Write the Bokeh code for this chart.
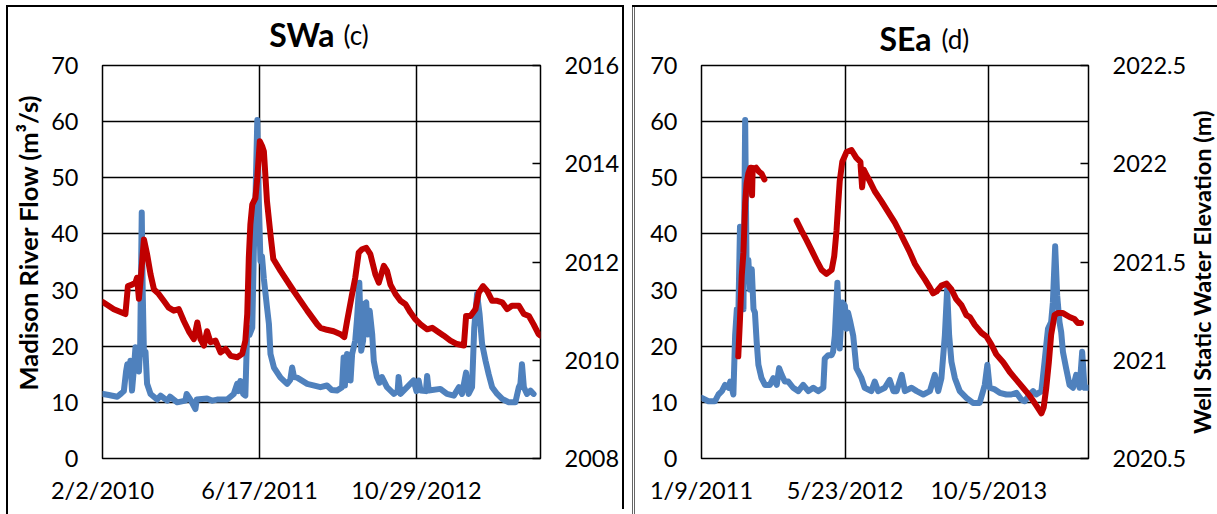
import math
import numpy as np
import pandas as pd
from bokeh.plotting import figure
from bokeh.models import Range1d, LinearAxis, FixedTicker, Title, Label, NumeralTickFormatter
from bokeh.layouts import row
from bokeh.embed import file_html
from bokeh.resources import INLINE

FONT = "Lato"
BLUE = "#4F81BD"
RED = "#C00000"
TICK_FONT_SIZE = "23.5px"

# ---------------- common ----------------
flow_ticks = [0, 10, 20, 30, 40, 50, 60, 70]

# ---------------- SWa (c) ----------------
swa_title = "SWa"
swa_tag = "(c)"
swa_flow_label = "Madison River Flow (m³/s)"
swa_start = "2010-02-02"          # days below are counted from this date
swa_span_days = 1395
swa_tick_days = [0, 500, 1000]
swa_tick_labels = ["2/2/2010", "6/17/2011", "10/29/2012"]
swa_elev_ticks = [2008, 2010, 2012, 2014, 2016]

swa_flow_day = [
    2, 20, 47, 60, 68, 75, 79, 85, 89, 94,
    100, 105, 110, 116, 120, 125, 128, 132, 137, 142,
    153, 174, 185, 206, 215, 238, 264, 268, 280, 296,
    300, 333, 350, 365, 397, 418, 429, 433, 439, 448,
    455, 461, 468, 477, 482, 487, 493, 498, 503, 508,
    514, 524, 530, 535, 546, 567, 588, 598, 604, 610,
    620, 652, 694, 715, 730, 747, 763, 768, 772, 779,
    785, 790, 795, 805, 811, 818, 824, 830, 834, 840,
    845, 851, 859, 864, 874, 882, 890, 906, 928, 940,
    943, 949, 970, 991, 1000, 1007, 1013, 1030, 1034, 1039,
    1076, 1097, 1119, 1135, 1145, 1158, 1166, 1177, 1184, 1193,
    1201, 1209, 1220, 1230, 1241, 1257, 1273, 1294, 1315, 1326,
    1331, 1336, 1342, 1352, 1363, 1373]
swa_flow = [
    11.5, 11.3, 11.0, 11.6, 12.0, 15.5, 16.8, 15.0, 17.4, 12.1,
    16.0, 19.8, 17.0, 15.5, 20.0, 43.8, 30.0, 18.6, 19.0, 13.3,
    11.5, 10.5, 11.2, 10.3, 11.0, 10.0, 10.3, 11.5, 10.5, 8.8,
    10.5, 10.7, 10.3, 10.5, 10.5, 11.5, 13.3, 12.0, 13.8, 11.5,
    11.2, 23.3, 22.0, 23.3, 37.0, 45.8, 60.3, 45.8, 35.2, 36.0,
    32.0, 26.9, 24.0, 18.6, 16.2, 14.4, 13.3, 14.0, 16.2, 14.5,
    14.4, 13.3, 12.7, 13.0, 12.2, 12.1, 12.7, 18.0, 13.0, 18.6,
    14.0, 13.9, 18.6, 21.0, 25.1, 31.3, 19.2, 21.0, 27.5, 27.8,
    22.1, 26.3, 22.1, 17.4, 14.5, 13.5, 14.5, 12.7, 11.5, 12.0,
    14.5, 11.5, 12.7, 13.9, 12.0, 13.9, 12.1, 12.0, 14.7, 12.1,
    12.4, 11.5, 11.2, 12.7, 11.5, 15.3, 11.5, 12.7, 23.3, 29.3,
    25.7, 20.4, 17.4, 15.0, 12.7, 11.5, 10.6, 10.0, 10.0, 12.7,
    13.3, 16.8, 12.7, 11.5, 12.1, 11.5]

swa_well_day = [
    2, 36, 73, 81, 94, 105, 110, 116, 123, 132,
    142, 153, 164, 179, 195, 211, 227, 243, 259, 275,
    291, 302, 312, 323, 333, 344, 360, 376, 392, 408,
    429, 445, 455, 461, 466, 471, 477, 487, 493, 501,
    509, 514, 524, 535, 544, 567, 609, 652, 684, 694,
    715, 736, 758, 770, 779, 795, 805, 816, 827, 840,
    853, 869, 880, 896, 906, 917, 933, 949, 965, 981,
    997, 1013, 1034, 1050, 1066, 1087, 1108, 1129, 1151, 1158,
    1172, 1188, 1198, 1212, 1225, 1241, 1257, 1273, 1289, 1304,
    1326, 1342, 1358, 1373, 1389, 1395]
swa_well_elev = [
    2011.18, 2011.04, 2010.94, 2011.51, 2011.54, 2011.58, 2011.68, 2011.25, 2011.75, 2012.46,
    2012.16, 2011.75, 2011.44, 2011.35, 2011.21, 2011.07, 2011.01, 2011.04, 2010.80, 2010.59,
    2010.43, 2010.77, 2010.43, 2010.30, 2010.59, 2010.37, 2010.40, 2010.16, 2010.23, 2010.09,
    2010.06, 2010.13, 2010.40, 2010.94, 2012.09, 2012.77, 2013.17, 2013.30, 2013.71, 2014.46,
    2014.35, 2014.25, 2013.23, 2012.56, 2012.06, 2011.82, 2011.41, 2011.01, 2010.73, 2010.66,
    2010.62, 2010.59, 2010.53, 2010.47, 2010.80, 2011.35, 2011.68, 2012.19, 2012.26, 2012.29,
    2012.16, 2011.75, 2011.58, 2011.92, 2011.82, 2011.54, 2011.35, 2011.21, 2011.14, 2010.97,
    2010.83, 2010.73, 2010.63, 2010.66, 2010.59, 2010.50, 2010.40, 2010.33, 2010.30, 2010.90,
    2010.90, 2011.04, 2011.37, 2011.51, 2011.41, 2011.21, 2011.21, 2011.18, 2011.04, 2011.11,
    2011.11, 2010.94, 2010.90, 2010.73, 2010.53, 2010.50]

# ---------------- SEa (d) ----------------
sea_title = "SEa"
sea_tag = "(d)"
sea_well_label = "Well Static Water Elevation (m)"
sea_start = "2011-01-09"          # days below are counted from this date
sea_span_days = 1347
sea_tick_days = [0, 500, 1000]
sea_tick_labels = ["1/9/2011", "5/23/2012", "10/5/2013"]
sea_elev_ticks = [2020.5, 2021.0, 2021.5, 2022.0, 2022.5]

sea_flow_day = [
    1, 24, 47, 59, 71, 82, 94, 100, 111, 117,
    123, 128, 134, 140, 146, 152, 157, 163, 169, 175,
    181, 186, 192, 198, 209, 221, 238, 250, 262, 270,
    279, 290, 302, 319, 337, 354, 372, 389, 406, 424,
    429, 441, 453, 458, 464, 473, 481, 490, 499, 505,
    510, 518, 528, 539, 557, 568, 591, 603, 615, 638,
    655, 668, 679, 697, 708, 731, 749, 772, 795, 812,
    824, 835, 847, 855, 862, 870, 882, 899, 922, 945,
    968, 980, 986, 995, 1003, 1021, 1038, 1061, 1078, 1096,
    1113, 1125, 1142, 1154, 1165, 1183, 1194, 1200, 1206, 1217,
    1223, 1231, 1238, 1246, 1252, 1258, 1269, 1281, 1293, 1304,
    1316, 1325, 1333, 1347]
sea_flow = [
    10.8, 10.2, 10.2, 11.4, 12.0, 13.1, 12.6, 13.7, 11.4, 21.9,
    26.6, 24.9, 41.3, 32.5, 26.6, 60.3, 33.7, 35.4, 30.1, 33.7,
    26.6, 26.0, 20.8, 16.7, 14.3, 13.1, 13.1, 14.3, 13.1, 16.1,
    14.9, 13.7, 13.7, 12.6, 12.0, 13.1, 12.0, 12.6, 12.0, 12.6,
    17.8, 18.4, 18.4, 19.0, 21.9, 31.3, 19.6, 27.8, 27.2, 23.1,
    26.0, 24.3, 21.9, 16.1, 14.3, 12.6, 12.0, 13.7, 12.0, 12.6,
    14.0, 12.0, 12.0, 14.9, 12.0, 12.6, 12.0, 11.4, 12.0, 14.9,
    12.0, 14.3, 21.9, 30.1, 21.9, 17.2, 14.3, 12.0, 10.8, 9.9,
    9.9, 12.0, 13.1, 16.7, 12.6, 12.3, 11.7, 11.4, 11.4, 11.7,
    10.5, 10.2, 11.4, 12.0, 11.4, 12.0, 17.2, 20.2, 23.1, 24.3,
    27.8, 37.8, 29.0, 24.3, 22.5, 19.0, 16.1, 13.1, 12.6, 14.9,
    12.6, 19.0, 12.6, 12.6]

NAN = float("nan")   # gap in the well record
sea_well_day = [
    128, 134, 140, 146, 152, 157, 163, 170, 174, 176,
    178, 190, 200, 209, 219, 275,
    331, 348, 366, 383, 400, 418, 435, 453, 462, 470,
    476, 481, 490, 505, 522, 539, 553, 559, 565, 568,
    586, 603, 626, 656, 673, 691, 708, 725, 743, 760,
    778, 795, 806, 818, 835, 853, 870, 887, 905, 922,
    934, 951, 974, 992, 1009, 1026, 1050, 1073, 1096, 1119,
    1142, 1165, 1183, 1191, 1200, 1209, 1217, 1229, 1240, 1258,
    1281, 1298, 1310, 1321]
sea_well_elev = [
    2021.02, 2021.21, 2021.43, 2021.55, 2021.80, 2021.90, 2021.95, 2021.98, 2021.98, 2021.84,
    2021.97, 2021.98, 2021.96, 2021.95, 2021.92, NAN,
    2021.71, 2021.66, 2021.61, 2021.56, 2021.51, 2021.46, 2021.44, 2021.46, 2021.53, 2021.66,
    2021.80, 2021.91, 2022.01, 2022.06, 2022.07, 2022.03, 2022.01, 2021.88, 2021.97, 2021.96,
    2021.91, 2021.86, 2021.81, 2021.74, 2021.70, 2021.65, 2021.60, 2021.55, 2021.49, 2021.45,
    2021.41, 2021.37, 2021.34, 2021.35, 2021.38, 2021.39, 2021.36, 2021.31, 2021.28, 2021.23,
    2021.22, 2021.18, 2021.14, 2021.12, 2021.08, 2021.03, 2020.99, 2020.94, 2020.90, 2020.86,
    2020.82, 2020.77, 2020.73, 2020.76, 2020.86, 2020.99, 2021.13, 2021.23, 2021.24, 2021.24,
    2021.22, 2021.21, 2021.19, 2021.19]


def to_dates(start, days):
    return pd.Timestamp(start) + pd.to_timedelta(np.asarray(days, dtype=float), unit="D")


def to_ms(start, d):
    return int((pd.Timestamp(start) + pd.Timedelta(days=d)).value // 10**6)


def make_panel(start, span_days, tick_days, tick_labels, flow_day, flow, well_day, well_elev,
               elev_ticks, width, borders, name, tag, title_pos, title_standoffs,
               left_label=None, right_label=None):
    bl, br, bt, bb = borders
    x0, x1 = to_ms(start, 0), to_ms(start, span_days)
    p = figure(width=width, height=514, x_axis_type="datetime",
               x_range=Range1d(x0, x1), y_range=Range1d(0, 70),
               output_backend="svg", toolbar_location=None,
               min_border_left=bl, min_border_right=br, min_border_top=bt, min_border_bottom=bb)
    p.extra_y_ranges = {"elev": Range1d(elev_ticks[0], elev_ticks[-1])}
    p.background_fill_color = "white"
    p.border_fill_color = None
    p.outline_line_color = "black"
    p.outline_line_width = 1.5

    xt = [to_ms(start, d) for d in tick_days]
    xax = p.xaxis[0]
    xax.ticker = FixedTicker(ticks=xt, minor_ticks=[])
    xax.major_label_overrides = {t: lab for t, lab in zip(xt, tick_labels)}
    yax = p.yaxis[0]
    yax.ticker = FixedTicker(ticks=flow_ticks, minor_ticks=[])

    rax = LinearAxis(y_range_name="elev", ticker=FixedTicker(ticks=elev_ticks, minor_ticks=[]),
                     formatter=NumeralTickFormatter(format="0.[0]"))
    p.add_layout(rax, "right")

    for ax in (xax, yax, rax):
        ax.axis_line_color = None
        ax.major_tick_out = 0
        ax.major_tick_in = 0
        ax.minor_tick_out = 0
        ax.minor_tick_in = 0
        ax.major_label_text_font = FONT
        ax.major_label_text_font_size = TICK_FONT_SIZE
        ax.major_label_text_color = "black"
    xax.major_label_standoff = 17
    yax.major_label_standoff = 24
    rax.major_label_standoff = 24
    rax.major_tick_in = 8
    rax.major_tick_line_color = "black"
    rax.major_tick_line_width = 1.5

    p.xgrid.ticker = FixedTicker(ticks=xt, minor_ticks=[])
    p.ygrid.ticker = FixedTicker(ticks=flow_ticks, minor_ticks=[])
    for g in (p.xgrid, p.ygrid):
        g.grid_line_color = "black"
        g.grid_line_width = 1.5
        g.grid_line_alpha = 1.0

    p.line(to_dates(start, flow_day), flow, color=BLUE, line_width=6,
           line_join="round", line_cap="round")
    p.line(to_dates(start, well_day), well_elev, y_range_name="elev", color=RED, line_width=6,
           line_join="round", line_cap="round")

    fw = width - bl - br
    name_right, tag_left = title_pos
    sa, sb = title_standoffs
    p.add_layout(Title(text=name, text_font=FONT, text_font_style="bold",
                       text_font_size="32px", text_color="black", align="right",
                       offset=fw - name_right, vertical_align="bottom", standoff=sa), "above")
    p.add_layout(Title(text=tag, text_font=FONT, text_font_style="normal",
                       text_font_size="26px", text_color="black", align="left",
                       offset=tag_left, vertical_align="bottom", standoff=sb), "above")
    if left_label:
        text, offset, standoff = left_label
        p.add_layout(Title(text=text, text_font=FONT, text_font_style="bold",
                           text_font_size="25.5px", text_color="black", align="left",
                           offset=offset, vertical_align="bottom", standoff=standoff), "left")
    if right_label:
        text, lx, ly = right_label
        p.add_layout(Label(text=text, x=lx, y=ly, x_units="screen", y_units="screen",
                           angle=math.pi / 2, text_font=FONT, text_font_style="bold",
                           text_font_size="23.5px", text_color="black",
                           text_align="center", text_baseline="middle"), "right")
    return p


p1 = make_panel(swa_start, swa_span_days, swa_tick_days, swa_tick_labels, swa_flow_day, swa_flow,
                swa_well_day, swa_well_elev, swa_elev_ticks, 626, (102, 86, 64, 56),
                swa_title, swa_tag, (232, 241), (24, -100.8),
                left_label=(swa_flow_label, 68, 11))
p2 = make_panel(sea_start, sea_span_days, sea_tick_days, sea_tick_labels, sea_flow_day, sea_flow,
                sea_well_day, sea_well_elev, sea_elev_ticks, 591, (75, 128, 60, 56),
                sea_title, sea_tag, (231, 240), (16, -92.8),
                right_label=(sea_well_label, 12, 186.5))

frame_lines = {
    "background-image": ", ".join(["linear-gradient(#000,#000)"] * 4 + ["linear-gradient(#666,#666)"] * 2),
    "background-size": "2px 509px, 618px 2px, 2px 504px, 586px 2px, 1px 509px, 1px 509px",
    "background-position": "6px 5px, 6px 5px, 622px 5px, 632px 5px, 632px 5px, 634px 5px",
    "background-repeat": "no-repeat",
}
layout = row(p1, p2, styles=frame_lines)

open("out.html", "w").write(file_html(layout, INLINE))
